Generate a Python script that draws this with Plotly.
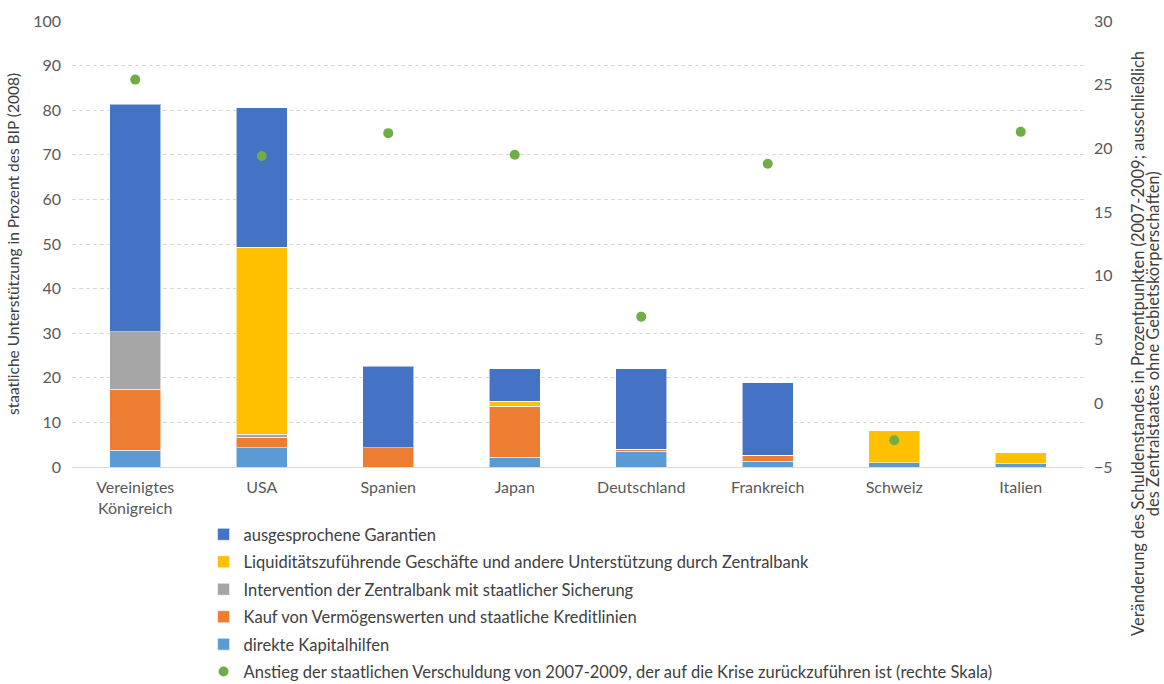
import plotly.graph_objects as go

countries = ["Vereinigtes<br>Königreich", "USA", "Spanien", "Japan", "Deutschland",
             "Frankreich", "Schweiz", "Italien"]

# Stacked components of state support, % of GDP (2008)
direkte_kapitalhilfen = [3.8, 4.3, 0.0, 2.2, 3.5, 1.3, 0.9, 0.7]
kauf_vermoegenswerte = [13.6, 2.4, 4.3, 11.4, 0.5, 1.3, 0.0, 0.0]
intervention_zentralbank = [12.9, 0.7, 0.0, 0.0, 0.0, 0.0, 0.0, 0.0]
liquiditaet_zentralbank = [0.0, 41.9, 0.0, 1.1, 0.0, 0.0, 7.2, 2.5]
garantien = [51.0, 31.3, 18.3, 7.3, 18.0, 16.3, 0.0, 0.0]

# Increase in government debt 2007-2009 (percentage points, right axis)
anstieg_verschuldung = [25.4, 19.4, 21.2, 19.5, 6.8, 18.8, -2.9, 21.3]

series = [
    ("direkte Kapitalhilfen", direkte_kapitalhilfen, "#5B9BD5", 5),
    ("Kauf von Vermögenswerten und staatliche Kreditlinien", kauf_vermoegenswerte, "#ED7D31", 4),
    ("Intervention der Zentralbank mit staatlicher Sicherung", intervention_zentralbank, "#A5A5A5", 3),
    ("Liquiditätszuführende Geschäfte und andere Unterstützung durch Zentralbank",
     liquiditaet_zentralbank, "#FFC000", 2),
    ("ausgesprochene Garantien", garantien, "#4472C4", 1),
]

right_title_lines = [
    "Veränderung des Schuldenstandes in Prozentpunkten (2007-2009; ausschließlich",
    "des Zentralstaates ohne Gebietskörperschaften)",
]

FONT = "Lato"
TICK = 16
fig = go.Figure()
for name, vals, color, rank in series:
    fig.add_trace(go.Bar(
        x=countries, y=vals, name=name, legendrank=rank, legendgroup=name,
        marker=dict(color=color, line=dict(color="rgba(255,255,255,0.55)", width=1)),
        width=0.4,
    ))

fig.add_trace(go.Scatter(
    x=countries, y=anstieg_verschuldung, yaxis="y2", mode="markers",
    name="Anstieg der staatlichen Verschuldung von 2007-2009, der auf die Krise zurückzuführen ist (rechte Skala)",
    legendrank=6, legendgroup="dots",
    marker=dict(color="#70AD47", size=10),
))

# Right-axis title drawn as two rotated lines with tight line spacing
title_annotations = [
    dict(text=line, xref="paper", yref="paper", x=xpos, y=0.276, textangle=-90,
         showarrow=False, xanchor="center", yanchor="middle",
         font=dict(size=16.5, color="#404040"))
    for line, xpos in zip(right_title_lines, [1.0534, 1.0685])
]

fig.update_layout(
    width=1164, height=684,
    margin=dict(l=72, r=80, t=21, b=217, autoexpand=False),
    paper_bgcolor="white", plot_bgcolor="white",
    barmode="stack",
    font=dict(family=FONT, size=TICK, color="#595959"),
    xaxis=dict(
        showline=True, linecolor="#D9D9D9", linewidth=1,
        ticks="", tickfont=dict(size=TICK, color="#595959"),
        ticklabelstandoff=6,
    ),
    yaxis=dict(
        range=[0, 100], dtick=10, showgrid=True, gridcolor="#D9D9D9",
        griddash="4px,3px", gridwidth=1, zeroline=False,
        tickfont=dict(size=TICK, color="#595959"), ticklabelstandoff=10,
        title=dict(text="staatliche Unterstützung in Prozent des BIP (2008)",
                   font=dict(size=15.5, color="#404040"), standoff=9),
    ),
    yaxis2=dict(
        range=[-5, 30], dtick=5, overlaying="y", side="right",
        showgrid=False, zeroline=False,
        tickfont=dict(size=TICK, color="#595959"), ticklabelstandoff=9,
    ),
    legend=dict(
        orientation="v", x=0.13, y=0.244, xanchor="left", yanchor="top",
        yref="container",
        traceorder="grouped", tracegroupgap=3,
        font=dict(size=16.5, color="#404040"),
        bgcolor="rgba(0,0,0,0)",
    ),
    annotations=title_annotations,
)

fig.write_html("out.html")
